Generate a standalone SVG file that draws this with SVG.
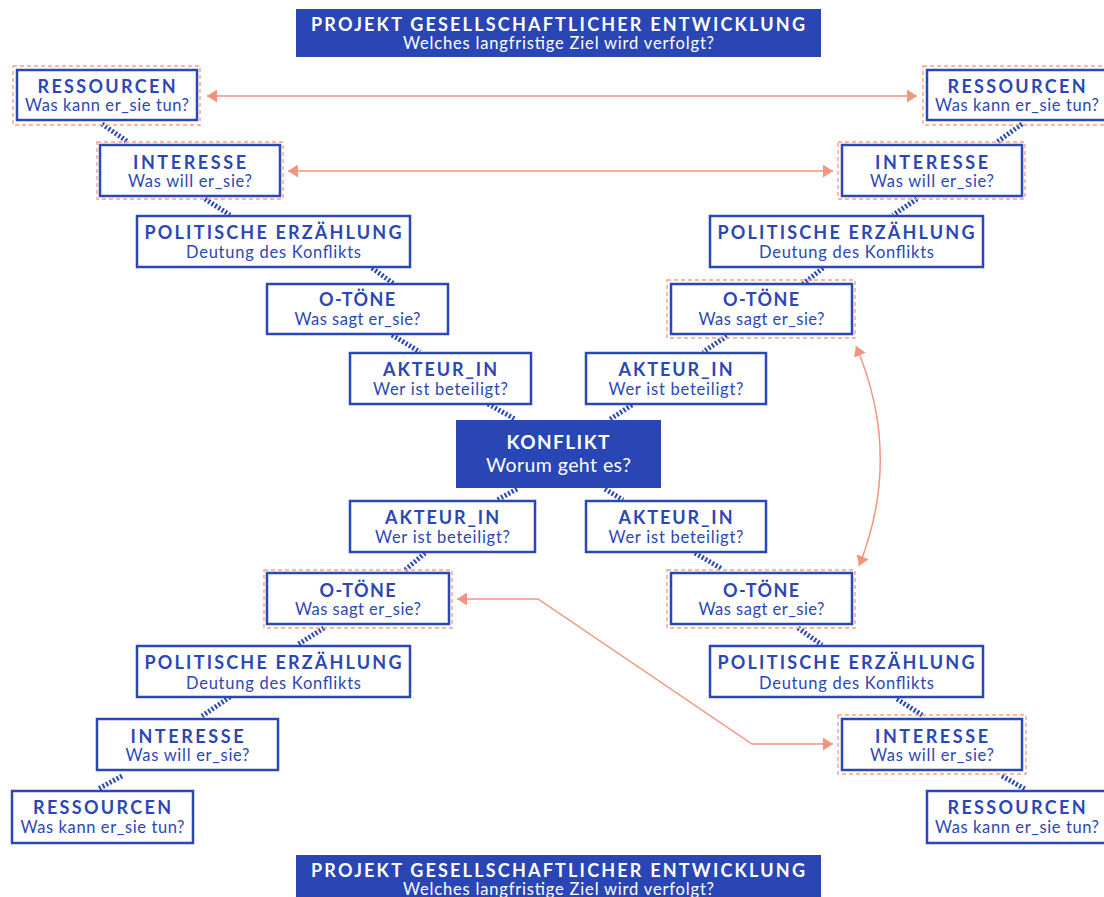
<svg xmlns="http://www.w3.org/2000/svg" width="1104" height="897" viewBox="0 0 1104 897">
<style>
.box{fill:#ffffff;stroke:#2b47b5;stroke-width:2.5}
.fill{fill:#2946b4;stroke:none}
.hl{fill:none;stroke:#f4a08c;stroke-width:1.4;stroke-dasharray:4 3}
.t{font-family:Lato,"Noto Sans","Liberation Sans",sans-serif;font-weight:bold;font-size:18px;letter-spacing:1px;fill:#2b47b5;text-anchor:middle}
.s{font-family:Lato,"Noto Sans","Liberation Sans",sans-serif;font-size:16.5px;fill:#2b47b5;text-anchor:middle}
.w{fill:#ffffff}
.dot{stroke:#2b47b5;stroke-width:5;stroke-dasharray:2 2;fill:none}
.arr{stroke:#f3957e;stroke-width:1.5;fill:none;marker-start:url(#ah);marker-end:url(#ah)}
</style>
<defs>
<marker id="ah" viewBox="0 0 10 13" markerUnits="userSpaceOnUse" markerWidth="10" markerHeight="13" refX="10" refY="6.5" orient="auto-start-reverse">
<path d="M0,0 L10,6.5 L0,13 z" fill="#f3957e"/>
</marker>
</defs>

<g id="connectors">
<line class="dot" x1="102" y1="124" x2="128" y2="142"/>
<line class="dot" x1="205" y1="199" x2="230" y2="215"/>
<line class="dot" x1="372" y1="268" x2="394" y2="284"/>
<line class="dot" x1="392" y1="335" x2="420" y2="352"/>
<line class="dot" x1="488" y1="404" x2="515" y2="419"/>
<line class="dot" x1="1022" y1="124" x2="997" y2="142"/>
<line class="dot" x1="917" y1="199" x2="893" y2="215"/>
<line class="dot" x1="823" y1="268" x2="803" y2="284"/>
<line class="dot" x1="727" y1="336" x2="703" y2="352"/>
<line class="dot" x1="632" y1="405" x2="609" y2="420"/>
<line class="dot" x1="517" y1="489" x2="497" y2="500"/>
<line class="dot" x1="425" y1="553" x2="404" y2="571"/>
<line class="dot" x1="324" y1="628" x2="297" y2="645"/>
<line class="dot" x1="230" y1="697" x2="202" y2="716"/>
<line class="dot" x1="122" y1="776" x2="98" y2="789"/>
<line class="dot" x1="605" y1="489" x2="623" y2="500"/>
<line class="dot" x1="695" y1="553" x2="722" y2="569"/>
<line class="dot" x1="798" y1="628" x2="822" y2="645"/>
<line class="dot" x1="897" y1="699" x2="922" y2="715"/>
<line class="dot" x1="1002" y1="776" x2="1025" y2="789"/>
<line class="arr" x1="207" y1="96" x2="917" y2="96"/>
<line class="arr" x1="288" y1="171" x2="833" y2="171"/>
<path class="arr" d="M856,346 Q903,456 859,566"/>
<polyline class="arr" points="457,599 538,599 752,744 833,744"/>
</g>

<g id="header-top">
<rect class="fill" x="296" y="9" width="525" height="48"/>
<text class="t w" x="558.5" y="31" textLength="495">PROJEKT GESELLSCHAFTLICHER ENTWICKLUNG</text>
<text class="s w" x="558.5" y="49" textLength="311">Welches langfristige Ziel wird verfolgt?</text>
</g>

<g id="res-tl">
<rect class="hl" x="13" y="66" width="187" height="59"/>
<rect class="box" x="17" y="70" width="180" height="50"/>
<text class="t" x="107" y="93" textLength="139">RESSOURCEN</text>
<text class="s" x="107" y="111" textLength="164">Was kann er_sie tun?</text>
</g>
<g id="int-tl">
<rect class="hl" x="97" y="142" width="186" height="57"/>
<rect class="box" x="100" y="145" width="180" height="51"/>
<text class="t" x="190" y="169" textLength="114">INTERESSE</text>
<text class="s" x="190" y="187" textLength="124">Was will er_sie?</text>
</g>
<g id="pol-tl">
<rect class="box" x="137" y="216" width="273" height="51"/>
<text class="t" x="273.5" y="239" textLength="258">POLITISCHE ERZÄHLUNG</text>
<text class="s" x="273.5" y="258" textLength="175">Deutung des Konflikts</text>
</g>
<g id="ot-tl">
<rect class="box" x="267" y="284" width="181" height="50"/>
<text class="t" x="357.5" y="306" textLength="77">O-TÖNE</text>
<text class="s" x="357.5" y="325" textLength="126">Was sagt er_sie?</text>
</g>
<g id="ak-tl">
<rect class="box" x="350" y="353" width="181" height="51"/>
<text class="t" x="440.5" y="376" textLength="115">AKTEUR_IN</text>
<text class="s" x="440.5" y="395" textLength="135">Wer ist beteiligt?</text>
</g>

<g id="res-tr">
<rect class="hl" x="923" y="66" width="187" height="59"/>
<rect class="box" x="927" y="70" width="180" height="50"/>
<text class="t" x="1017" y="93" textLength="139">RESSOURCEN</text>
<text class="s" x="1017" y="111" textLength="164">Was kann er_sie tun?</text>
</g>
<g id="int-tr">
<rect class="hl" x="838" y="142" width="187" height="57"/>
<rect class="box" x="842" y="145" width="180" height="51"/>
<text class="t" x="932" y="169" textLength="114">INTERESSE</text>
<text class="s" x="932" y="187" textLength="124">Was will er_sie?</text>
</g>
<g id="pol-tr">
<rect class="box" x="710" y="216" width="273" height="51"/>
<text class="t" x="846.5" y="239" textLength="258">POLITISCHE ERZÄHLUNG</text>
<text class="s" x="846.5" y="258" textLength="175">Deutung des Konflikts</text>
</g>
<g id="ot-tr">
<rect class="hl" x="667" y="280" width="188" height="58"/>
<rect class="box" x="671" y="284" width="181" height="50"/>
<text class="t" x="761.5" y="306" textLength="77">O-TÖNE</text>
<text class="s" x="761.5" y="325" textLength="126">Was sagt er_sie?</text>
</g>
<g id="ak-tr">
<rect class="box" x="586" y="353" width="180" height="51"/>
<text class="t" x="676" y="376" textLength="115">AKTEUR_IN</text>
<text class="s" x="676" y="395" textLength="135">Wer ist beteiligt?</text>
</g>

<g id="konflikt">
<rect class="fill" x="456" y="420" width="205" height="68"/>
<text class="t w" x="558.5" y="449" textLength="104" style="font-size:19px">KONFLIKT</text>
<text class="s w" x="558.5" y="472" textLength="145" style="font-size:19.5px">Worum geht es?</text>
</g>

<g id="ak-bl">
<rect class="box" x="350" y="501" width="185" height="51"/>
<text class="t" x="442.5" y="524" textLength="115">AKTEUR_IN</text>
<text class="s" x="442.5" y="543" textLength="135">Wer ist beteiligt?</text>
</g>
<g id="ot-bl">
<rect class="hl" x="264" y="570" width="188" height="58"/>
<rect class="box" x="267" y="573" width="182" height="51"/>
<text class="t" x="358" y="597" textLength="77">O-TÖNE</text>
<text class="s" x="358" y="615" textLength="126">Was sagt er_sie?</text>
</g>
<g id="pol-bl">
<rect class="box" x="137" y="646" width="273" height="51"/>
<text class="t" x="273.5" y="669" textLength="258">POLITISCHE ERZÄHLUNG</text>
<text class="s" x="273.5" y="689" textLength="175">Deutung des Konflikts</text>
</g>
<g id="int-bl">
<rect class="box" x="97" y="719" width="181" height="51"/>
<text class="t" x="187.5" y="743" textLength="114">INTERESSE</text>
<text class="s" x="187.5" y="761" textLength="124">Was will er_sie?</text>
</g>
<g id="res-bl">
<rect class="box" x="12" y="791" width="181" height="52"/>
<text class="t" x="102.5" y="814" textLength="139">RESSOURCEN</text>
<text class="s" x="102.5" y="833" textLength="164">Was kann er_sie tun?</text>
</g>

<g id="ak-br">
<rect class="box" x="586" y="501" width="180" height="51"/>
<text class="t" x="676" y="524" textLength="115">AKTEUR_IN</text>
<text class="s" x="676" y="543" textLength="135">Wer ist beteiligt?</text>
</g>
<g id="ot-br">
<rect class="hl" x="667" y="570" width="188" height="58"/>
<rect class="box" x="671" y="573" width="181" height="51"/>
<text class="t" x="761.5" y="597" textLength="77">O-TÖNE</text>
<text class="s" x="761.5" y="615" textLength="126">Was sagt er_sie?</text>
</g>
<g id="pol-br">
<rect class="box" x="710" y="646" width="273" height="51"/>
<text class="t" x="846.5" y="669" textLength="258">POLITISCHE ERZÄHLUNG</text>
<text class="s" x="846.5" y="689" textLength="175">Deutung des Konflikts</text>
</g>
<g id="int-br">
<rect class="hl" x="838" y="715" width="188" height="59"/>
<rect class="box" x="842" y="719" width="180" height="51"/>
<text class="t" x="932" y="743" textLength="114">INTERESSE</text>
<text class="s" x="932" y="761" textLength="124">Was will er_sie?</text>
</g>
<g id="res-br">
<rect class="box" x="927" y="791" width="180" height="52"/>
<text class="t" x="1017" y="814" textLength="139">RESSOURCEN</text>
<text class="s" x="1017" y="833" textLength="164">Was kann er_sie tun?</text>
</g>

<g id="header-bottom">
<rect class="fill" x="296" y="855" width="525" height="48"/>
<text class="t w" x="558.5" y="877" textLength="495">PROJEKT GESELLSCHAFTLICHER ENTWICKLUNG</text>
<text class="s w" x="558.5" y="895" textLength="311">Welches langfristige Ziel wird verfolgt?</text>
</g>
</svg>
